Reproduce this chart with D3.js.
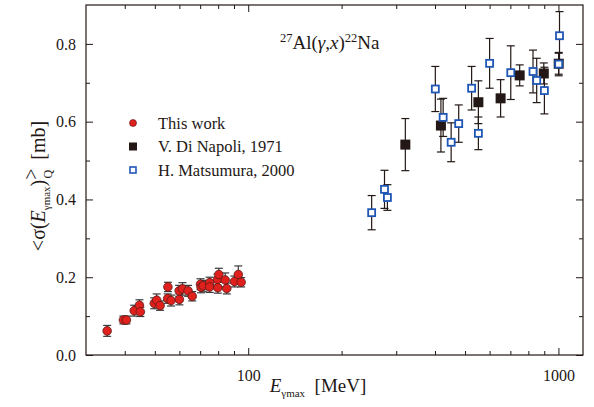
<!DOCTYPE html>
<html>
<head>
<meta charset="utf-8">
<script src="https://cdn.jsdelivr.net/npm/d3@7"></script>
<style>
  body { margin: 0; background: #fff; }
  svg text { font-family: "Liberation Serif", "DejaVu Serif", serif; fill: #231815; }
</style>
</head>
<body>
<div id="chart"></div>
<script>
// This work
const thisWorkE = [35.1, 39.6, 40.5, 42.9, 44.6, 44.9, 49.8, 50.7, 52.0, 55.1, 55.0, 56.4, 60.0, 59.9, 61.4,
  64.0, 66.0, 70.2, 70.5, 71.6, 75.1, 75.1, 79.6, 80.4, 79.8, 84.3, 85.3, 90.3, 92.9, 94.9];
const thisWorkSigma = [0.062, 0.090, 0.090, 0.114, 0.128, 0.111, 0.133, 0.141, 0.127, 0.175, 0.145, 0.140, 0.143,
  0.165, 0.170, 0.165, 0.151, 0.182, 0.174, 0.178, 0.186, 0.175, 0.194, 0.207, 0.173, 0.193, 0.171, 0.189, 0.207, 0.187];
const thisWorkErr = [0.014, 0.010, 0.010, 0.014, 0.014, 0.012, 0.014, 0.016, 0.012, 0.012, 0.012, 0.014, 0.014,
  0.014, 0.016, 0.014, 0.012, 0.014, 0.014, 0.014, 0.014, 0.014, 0.014, 0.016, 0.014, 0.018, 0.014, 0.014, 0.022, 0.012];

// V. Di Napoli, 1971
const napoliE = [321, 418, 552, 651, 750, 897, 1002];
const napoliSigma = [0.541, 0.590, 0.650, 0.660, 0.719, 0.724, 0.749];
const napoliErr = [0.067, 0.068, 0.055, 0.048, 0.027, 0.027, 0.027];

// H. Matsumura, 2000
const matsuE = [250, 275, 281, 401, 425, 451, 477, 525, 552, 600, 702, 828, 851, 901, 1008, 1002];
const matsuSigma = [0.366, 0.426, 0.405, 0.684, 0.611, 0.547, 0.595, 0.686, 0.570, 0.750, 0.726, 0.729, 0.706, 0.680, 0.821, 0.748];
const matsuErr = [0.044, 0.049, 0.033, 0.058, 0.049, 0.050, 0.048, 0.056, 0.042, 0.064, 0.069, 0.055, 0.057, 0.060, 0.062, 0.030];

const xMajor = [100, 1000];
const xMinor = [40, 50, 60, 70, 80, 90, 200, 300, 400, 500, 600, 700, 800, 900];
const yMajor = [0, 0.2, 0.4, 0.6, 0.8];
const yMinor = [0.1, 0.3, 0.5, 0.7];

const legendLabels = ['This work', 'V. Di Napoli, 1971', 'H. Matsumura, 2000'];

const width = 594;
const height = 407;
const margin = { left: 86, top: 5, right: 11, bottom: 52 };
const innerW = width - margin.left - margin.right;
const innerH = height - margin.top - margin.bottom;
const ink = '#231815';

const svg = d3.select('#chart')
  .append('svg')
  .attr('width', width)
  .attr('height', height);

const g = svg.append('g').attr('transform', `translate(${margin.left},${margin.top})`);

const x = d3.scaleLog().domain([30, 1200]).range([0, innerW]);
const y = d3.scaleLinear().domain([0, 0.9]).range([innerH, 0]);

// Axes (ticks point inward)
const styleAxis = sel => {
  sel.select('.domain').remove();
  sel.selectAll('line').attr('stroke', ink).attr('stroke-width', 1);
  sel.selectAll('text').attr('font-size', 16).attr('fill', ink)
    .style('font-family', '"Liberation Serif", serif');
};

g.append('g').attr('transform', `translate(0,${innerH})`)
  .call(d3.axisBottom(x).tickValues(xMajor).tickSize(-7).tickPadding(15).tickFormat(d3.format('d')))
  .call(styleAxis);
g.append('g').attr('transform', `translate(0,${innerH})`)
  .call(d3.axisBottom(x).tickValues(xMinor).tickSize(-4).tickFormat(''))
  .call(styleAxis);
g.append('g')
  .call(d3.axisTop(x).tickValues(xMajor).tickSize(-7).tickFormat(''))
  .call(styleAxis);
g.append('g')
  .call(d3.axisTop(x).tickValues(xMinor).tickSize(-4).tickFormat(''))
  .call(styleAxis);

g.append('g')
  .call(d3.axisLeft(y).tickValues(yMajor).tickSize(-7).tickPadding(10).tickFormat(d3.format('.1f')))
  .call(styleAxis);
g.append('g')
  .call(d3.axisLeft(y).tickValues(yMinor).tickSize(-4).tickFormat(''))
  .call(styleAxis);
g.append('g').attr('transform', `translate(${innerW},0)`)
  .call(d3.axisRight(y).tickValues(yMajor).tickSize(-7).tickFormat(''))
  .call(styleAxis);
g.append('g').attr('transform', `translate(${innerW},0)`)
  .call(d3.axisRight(y).tickValues(yMinor).tickSize(-4).tickFormat(''))
  .call(styleAxis);

// Frame
g.append('rect')
  .attr('width', innerW)
  .attr('height', innerH)
  .attr('fill', 'none')
  .attr('stroke', ink)
  .attr('stroke-width', 1.2);

// Error bars
const drawErrors = (E, S, Err, color) => {
  const rows = E.map((e, i) => ({ e, s: S[i], err: Err[i] }));
  const eb = g.append('g').selectAll('g').data(rows).enter().append('g')
    .attr('stroke', color).attr('stroke-width', 1.2);
  eb.append('line')
    .attr('x1', d => x(d.e)).attr('x2', d => x(d.e))
    .attr('y1', d => y(d.s - d.err)).attr('y2', d => y(d.s + d.err));
  eb.append('line')
    .attr('x1', d => x(d.e) - 4).attr('x2', d => x(d.e) + 4)
    .attr('y1', d => y(d.s + d.err)).attr('y2', d => y(d.s + d.err));
  eb.append('line')
    .attr('x1', d => x(d.e) - 4).attr('x2', d => x(d.e) + 4)
    .attr('y1', d => y(d.s - d.err)).attr('y2', d => y(d.s - d.err));
};

drawErrors(thisWorkE, thisWorkSigma, thisWorkErr, '#3a3a3a');
drawErrors(napoliE, napoliSigma, napoliErr, ink);
drawErrors(matsuE, matsuSigma, matsuErr, ink);

// Markers
g.append('g').selectAll('rect')
  .data(napoliE.map((e, i) => ({ e, s: napoliSigma[i] })))
  .enter().append('rect')
  .attr('x', d => x(d.e) - 5).attr('y', d => y(d.s) - 5)
  .attr('width', 10).attr('height', 10)
  .attr('fill', ink);

g.append('g').selectAll('rect')
  .data(matsuE.map((e, i) => ({ e, s: matsuSigma[i] })))
  .enter().append('rect')
  .attr('x', d => x(d.e) - 3.5).attr('y', d => y(d.s) - 3.5)
  .attr('width', 7).attr('height', 7)
  .attr('fill', '#fff').attr('stroke', '#1f56b5').attr('stroke-width', 1.8);

g.append('g').selectAll('circle')
  .data(thisWorkE.map((e, i) => ({ e, s: thisWorkSigma[i] })))
  .enter().append('circle')
  .attr('cx', d => x(d.e)).attr('cy', d => y(d.s))
  .attr('r', 4.3)
  .attr('fill', '#e0201c').attr('stroke', '#5a1a18').attr('stroke-width', 0.8);

// Legend
const legend = svg.append('g').attr('transform', 'translate(133,123)');
legendLabels.forEach((label, i) => {
  const row = legend.append('g').attr('transform', `translate(0,${i * 23.5})`);
  if (i === 0) {
    row.append('circle').attr('r', 3.5).attr('fill', '#e0201c').attr('stroke', '#5a1a18').attr('stroke-width', 0.6);
  } else if (i === 1) {
    row.append('rect').attr('x', -4).attr('y', -4).attr('width', 8).attr('height', 8).attr('fill', ink);
  } else {
    row.append('rect').attr('x', -3).attr('y', -3).attr('width', 6).attr('height', 6)
      .attr('fill', '#fff').attr('stroke', '#1f56b5').attr('stroke-width', 1.6);
  }
  row.append('text').attr('x', 25).attr('y', 5.5).attr('font-size', 16.5).text(label);
});

// Title: 27Al(γ,x)22Na
const title = svg.append('text').attr('x', 280).attr('y', 49).attr('font-size', 19);
title.append('tspan').attr('font-size', 12.5).attr('dy', -7).text('27');
title.append('tspan').attr('dy', 7).text('Al(');
title.append('tspan').attr('font-style', 'italic').text('γ');
title.append('tspan').text(',');
title.append('tspan').attr('font-style', 'italic').text('x');
title.append('tspan').text(')');
title.append('tspan').attr('font-size', 12.5).attr('dy', -7).text('22');
title.append('tspan').attr('dy', 7).text('Na');

// X label
const xl = svg.append('text').attr('x', 318).attr('y', 392).attr('text-anchor', 'middle').attr('font-size', 19);
xl.append('tspan').attr('font-style', 'italic').text('E');
xl.append('tspan').attr('font-size', 11).attr('dy', 5).text('γmax');
xl.append('tspan').attr('dy', -5).text('\u00a0\u00a0[MeV]');

// Y label
const yl = svg.append('text')
  .attr('transform', 'translate(45,186) rotate(-90)')
  .attr('text-anchor', 'middle')
  .attr('font-size', 20);
yl.append('tspan').text('<σ(');
yl.append('tspan').attr('font-style', 'italic').text('E');
yl.append('tspan').attr('font-size', 11).attr('dy', 5).text('γmax');
yl.append('tspan').attr('dy', -5).text(')');
yl.append('tspan').attr('dy', -7).text('>');
yl.append('tspan').attr('font-size', 12).attr('dx', -10).attr('dy', 14).text('Q');
yl.append('tspan').attr('dy', -7).text('\u00a0\u00a0[mb]');
</script>
</body>
</html>
